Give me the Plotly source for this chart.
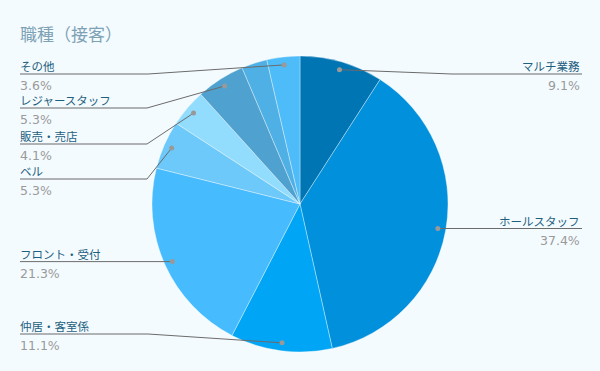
import math
import plotly.graph_objects as go

# ---- data ----
categories = ["マルチ業務", "ホールスタッフ", "仲居・客室係", "フロント・受付", "ベル",
              "販売・売店", "レジャースタッフ", "", "その他"]
values = [9.1, 37.4, 11.1, 21.3, 5.3, 4.1, 5.3, 2.8, 3.6]
pct_labels = ["9.1%", "37.4%", "11.1%", "21.3%", "5.3%", "4.1%", "5.3%", "", "3.6%"]
colors = ["#0075b4", "#0090dc", "#00a6f5", "#46bbfd", "#6ec9fb",
          "#92dcfd", "#4fa2cf", "#4fb0e5", "#4dbcf8"]
title_text = "職種（接客）"

# ---- layout constants (pixels) ----
W, H = 600, 371
CX, CY, R = 300, 204, 148
DOT_R = 140
BG = "#f4fbff"
FONT = "Noto Sans CJK JP"

# label placement: (side, line_y, elbow_x)
label_layout = {
    "マルチ業務": ("right", 74, 452),
    "ホールスタッフ": ("right", None, None),
    "仲居・客室係": ("left", 334, 148),
    "フロント・受付": ("left", None, None),
    "ベル": ("left", 179, 147),
    "販売・売店": ("left", 144, 147),
    "レジャースタッフ": ("left", 108, 147),
    "その他": ("left", 74, 148),
}

fig = go.Figure()
fig.add_trace(go.Pie(
    labels=[c if c else " " for c in categories],
    values=values,
    sort=False,
    direction="clockwise",
    rotation=0,
    marker=dict(colors=colors, line=dict(color="rgba(255,255,255,0.35)", width=1)),
    textinfo="none",
    hoverinfo="label+percent",
    domain=dict(x=[(CX - R) / W, (CX + R) / W],
                y=[(H - CY - R) / H, (H - CY + R) / H]),
    showlegend=False,
))

shapes = []
annotations = []
total = sum(values)
cum = 0.0
for cat, v, pct in zip(categories, values, pct_labels):
    mid = (cum + v / 2) / total * 2 * math.pi
    cum += v
    if not cat:
        continue
    dx = CX + DOT_R * math.sin(mid)
    dy = CY - DOT_R * math.cos(mid)
    side, ly, ex = label_layout[cat]
    if ly is None:
        ly, ex = dy, dx
    x_end = 20 if side == "left" else 582
    line_col = "#6b6b6b"
    shapes.append(dict(type="line", xref="x", yref="y", x0=dx, y0=dy, x1=ex, y1=ly,
                       line=dict(color=line_col, width=1), layer="above"))
    shapes.append(dict(type="line", xref="x", yref="y", x0=ex, y0=ly, x1=x_end, y1=ly,
                       line=dict(color=line_col, width=1), layer="above"))
    shapes.append(dict(type="circle", xref="x", yref="y", x0=dx - 2.5, y0=dy - 2.5,
                       x1=dx + 2.5, y1=dy + 2.5, fillcolor="#999999",
                       line=dict(width=0), layer="above"))
    anchor = "left" if side == "left" else "right"
    tx = 18 if side == "left" else 582
    annotations.append(dict(x=tx, y=ly - 8, xref="x", yref="y", text=cat, showarrow=False,
                            xanchor=anchor, yanchor="middle",
                            font=dict(family=FONT, size=11.5, color="#1e5f7e")))
    annotations.append(dict(x=tx, y=ly + 11.5, xref="x", yref="y", text=pct, showarrow=False,
                            xanchor=anchor, yanchor="middle",
                            font=dict(family="DejaVu Sans", size=12.5, color="#9a9a9a")))

annotations.append(dict(x=18, y=33, xref="x", yref="y", text=title_text, showarrow=False,
                        xanchor="left", yanchor="middle",
                        font=dict(family=FONT, size=17, color="#7ea2b5")))

fig.update_layout(
    width=W, height=H,
    margin=dict(l=0, r=0, t=0, b=0),
    paper_bgcolor=BG, plot_bgcolor=BG,
    xaxis=dict(range=[0, W], visible=False, fixedrange=True),
    yaxis=dict(range=[H, 0], visible=False, fixedrange=True),
    shapes=shapes,
    annotations=annotations,
)

fig.write_html("out.html")
